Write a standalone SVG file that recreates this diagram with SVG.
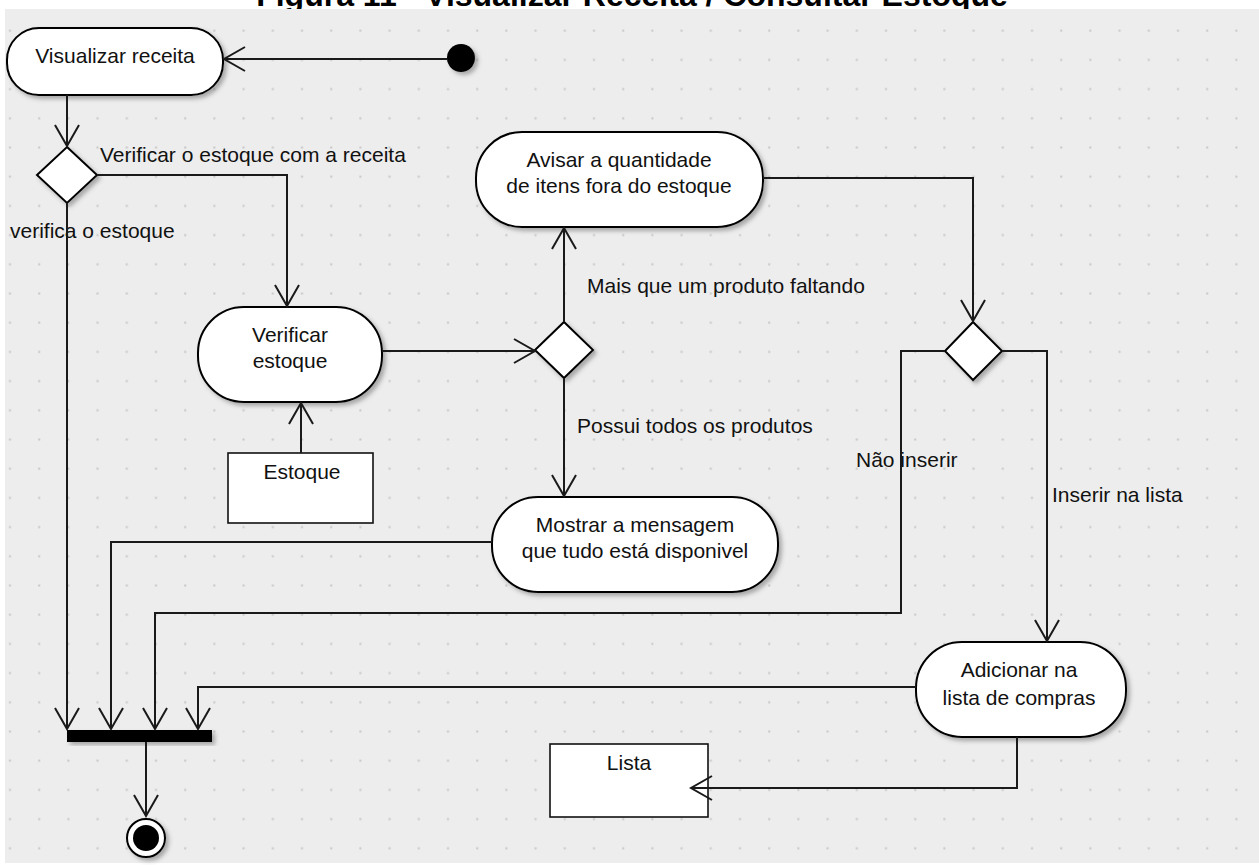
<svg xmlns="http://www.w3.org/2000/svg" width="1259" height="865" viewBox="0 0 1259 865">
  <defs>
    <style>
      .node { fill: #ffffff; stroke: #000000; stroke-width: 2; filter: url(#shadow); }
      .obj { fill: #ffffff; stroke: #111111; stroke-width: 1.6; }
      .edge { fill: none; stroke: #1a1a1a; stroke-width: 2; marker-end: url(#open); }
      .txt { font-family: "Liberation Sans", Arial, sans-serif; font-size: 21px; fill: #111111; }
      .mid { text-anchor: middle; }
      .title { font-family: "Liberation Sans", Arial, sans-serif; font-size: 32px; font-weight: bold; fill: #000000; text-anchor: middle; }
    </style>
    <filter id="shadow" x="-20%" y="-20%" width="150%" height="150%">
      <feDropShadow dx="3" dy="3" stdDeviation="2" flood-color="#555555" flood-opacity="0.45"/>
    </filter>
    <pattern id="grid" patternUnits="userSpaceOnUse" x="0" y="0" width="29.2" height="29.2">
      <rect x="9" y="0.5" width="2" height="2" fill="#c6c6c6"/>
    </pattern>
    <marker id="open" markerUnits="userSpaceOnUse" orient="auto" refX="0" refY="0" markerWidth="24" markerHeight="26" overflow="visible">
      <path d="M -21 -12 L 0 0 L -21 12" fill="none" stroke="#1a1a1a" stroke-width="2"/>
    </marker>
  </defs>

  <!-- page and canvas -->
  <rect x="0" y="0" width="1259" height="865" fill="#ffffff"/>
  <text class="title" x="632" y="6">Figura 11 - Visualizar Receita / Consultar Estoque</text>
  <rect x="5" y="9" width="1254" height="854" fill="#ededed"/>
  <rect x="5" y="9" width="1254" height="854" fill="url(#grid)"/>

  <!-- edge labels -->
  <g id="labels">
    <text class="txt" x="100" y="162">Verificar o estoque com a receita</text>
    <text class="txt" x="10" y="238">verifica o estoque</text>
    <text class="txt" x="587" y="293">Mais que um produto faltando</text>
    <text class="txt" x="577" y="433">Possui todos os produtos</text>
    <text class="txt" x="856" y="467">Não inserir</text>
    <text class="txt" x="1052" y="502">Inserir na lista</text>
  </g>

  <g id="start">
    <circle cx="461" cy="58" r="14" fill="#000000" filter="url(#shadow)"/>
  </g>

  <g id="visualizar-receita">
    <rect class="node" x="7" y="28" width="216" height="67" rx="32" ry="32"/>
    <text class="txt mid" x="115" y="63">Visualizar receita</text>
  </g>

  <g id="decisao-estoque">
    <polygon class="node" points="67,147 97,175 67,203 37,175"/>
  </g>

  <g id="verificar-estoque">
    <rect class="node" x="198" y="307" width="184" height="95" rx="46" ry="46"/>
    <text class="txt mid" x="290" y="342">Verificar</text>
    <text class="txt mid" x="290" y="368">estoque</text>
  </g>

  <g id="estoque">
    <rect class="obj" x="228" y="453" width="145" height="70"/>
    <text class="txt mid" x="302" y="479">Estoque</text>
  </g>

  <g id="decisao-produtos">
    <polygon class="node" points="564,322 593,350 564,378 535,350"/>
  </g>

  <g id="avisar-quantidade">
    <rect class="node" x="476" y="132" width="287" height="95" rx="46" ry="46"/>
    <text class="txt mid" x="619" y="167">Avisar a quantidade</text>
    <text class="txt mid" x="619" y="193">de itens fora do estoque</text>
  </g>

  <g id="mostrar-mensagem">
    <rect class="node" x="492" y="497" width="286" height="95" rx="46" ry="46"/>
    <text class="txt mid" x="635" y="532">Mostrar a mensagem</text>
    <text class="txt mid" x="635" y="558">que tudo está disponivel</text>
  </g>

  <g id="decisao-lista">
    <polygon class="node" points="973,322 1002,351 973,380 945,351"/>
  </g>

  <g id="adicionar-lista">
    <rect class="node" x="916" y="642" width="210" height="95" rx="46" ry="46"/>
    <text class="txt mid" x="1019" y="677">Adicionar na</text>
    <text class="txt mid" x="1019" y="705">lista de compras</text>
  </g>

  <g id="lista">
    <rect class="obj" x="550" y="744" width="158" height="73"/>
    <text class="txt mid" x="629" y="770">Lista</text>
  </g>

  <g id="juncao">
    <rect x="67" y="730" width="145" height="12" fill="#000000" filter="url(#shadow)"/>
  </g>

  <g id="fim">
    <circle cx="146" cy="838" r="19" fill="#ffffff" stroke="#000000" stroke-width="2" filter="url(#shadow)"/>
    <circle cx="146" cy="838" r="13" fill="#000000"/>
  </g>

  <!-- connectors, drawn over the nodes so arrowheads stay visible -->
  <g id="connectors">
    <path class="edge" d="M 447 59 H 224"/>
    <path class="edge" d="M 67 95 V 146"/>
    <path class="edge" d="M 97 175 H 287 V 306"/>
    <path class="edge" d="M 67 203 V 729"/>
    <path class="edge" d="M 382 351 H 535"/>
    <path class="edge" d="M 564 322 V 228"/>
    <path class="edge" d="M 564 378 V 496"/>
    <path class="edge" d="M 763 178 H 973 V 321"/>
    <path class="edge" d="M 945 351 H 901 V 613 H 155 V 729"/>
    <path class="edge" d="M 1002 351 H 1047 V 641"/>
    <path class="edge" d="M 492 542 H 111 V 729"/>
    <path class="edge" d="M 916 687 H 198 V 729"/>
    <path class="edge" d="M 1017 737 V 788 H 691"/>
    <path class="edge" d="M 301 453 V 403"/>
    <path class="edge" d="M 146 742 V 816"/>
  </g>
</svg>
